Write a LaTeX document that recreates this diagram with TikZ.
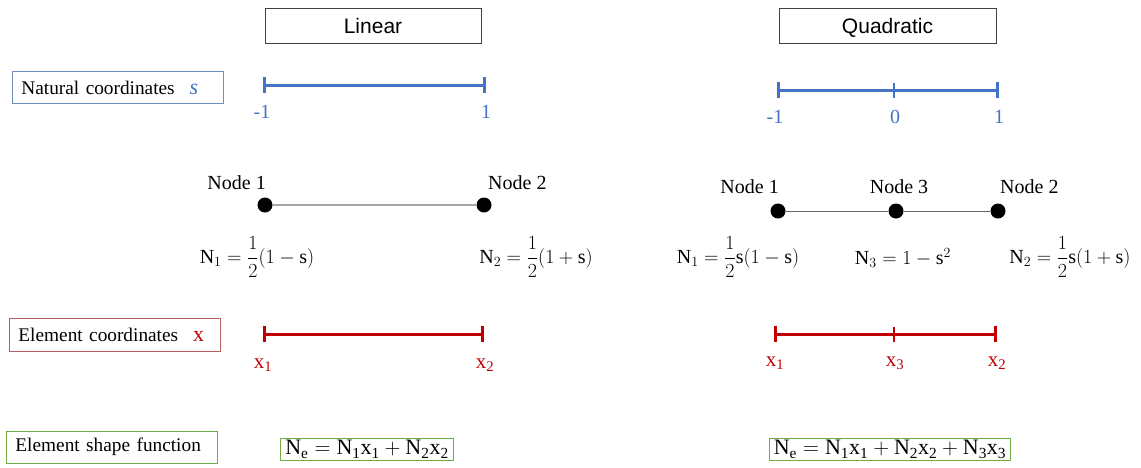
\documentclass[tikz,border=0pt]{standalone}
\usepackage{fix-cm}
\usepackage{amsmath}
\usepackage{fontspec}
\setmainfont{Liberation Serif}
\newfontfamily\titlefont{Liberation Sans}
\usepackage{xcolor}
\definecolor{natblue}{RGB}{68,114,196}
\definecolor{natframe}{RGB}{110,140,190}
\definecolor{elred}{RGB}{192,0,0}
\definecolor{elframe}{RGB}{185,95,95}
\definecolor{fungreen}{RGB}{112,173,71}
\usetikzlibrary{arrows.meta,positioning}

\begin{document}
\begin{tikzpicture}[x=1pt, y=-1pt,
  titlebox/.style={draw=black!75, line width=0.9pt, minimum width=216pt, minimum height=35pt, inner sep=0pt, text height=15pt, text depth=0pt, font=\titlefont\fontsize{21}{24}\selectfont},
  labelbox/.style={draw=#1, line width=0.9pt, anchor=west, text width=193pt, align=left, inner xsep=9pt, minimum height=32pt, font=\fontsize{19.3}{22}\selectfont},
  axisline/.style={{Bar[width=16pt]}-{Bar[width=16pt]}, line width=3pt, color=#1},
  midtick/.style={line width=2.8pt, color=#1},
  axislabel/.style={text=#1, inner sep=0pt, font=\fontsize{20}{22}\selectfont},
  dot/.style={circle, fill=black, inner sep=0pt, minimum size=15pt},
  dotlabel/.style={inner sep=0pt, font=\fontsize{20}{22}\selectfont},
  link/.style={draw=black!35, line width=1.5pt},
  shapefn/.style={inner sep=0pt, font=\fontsize{20}{24}\selectfont},
  sumbox/.style={draw=fungreen, line width=1.2pt, inner xsep=4.5pt, inner ysep=2pt, font=\fontsize{22}{24}\selectfont}
]
\useasboundingbox (0,0) rectangle (1141,467);

% titles
\node[titlebox] (lin) at (373,25.5) {Linear};
\node[titlebox, minimum width=217pt] (quad) at (887.5,25.5) {Quadratic};

% row labels
\node[labelbox=natframe] (natural) at (12,87.5) {Natural coordinates\hspace{15pt}{\color{natblue}\itshape\fontsize{22}{22}\selectfont s}};
\node[labelbox=elframe, minimum height=33pt] (element) at (9,334.5) {Element coordinates\hspace{15pt}{\color{elred}\fontsize{22}{22}\selectfont x}};
\node[labelbox=fungreen] (shapefun) at (6,447) {Element shape function};

% natural coordinates
\coordinate (sa) at (263,85);
\coordinate (sb) at (486,85);
\draw[axisline=natblue] (sa) -- (sb);
\node[axislabel=natblue] (sam) at (262,112) {-1};
\node[axislabel=natblue] (sbm) at (486,112) {1};

\coordinate (qa) at (777,90);
\coordinate (qc) at (894,90);
\coordinate (qb) at (999,90);
\draw[axisline=natblue] (qa) -- (qb);
\draw[midtick=natblue] ([yshift=7.5pt]qc) -- ([yshift=-7.5pt]qc);
\node[axislabel=natblue] (qam) at (775,117) {-1};
\node[axislabel=natblue] (qcm) at (895,117) {0};
\node[axislabel=natblue] (qbm) at (999,117) {1};

% linear element
\node[dot] (l1) at (265,205) {};
\node[dot] (l2) at (484,205) {};
\draw[link] (l1) -- (l2);
\node[dotlabel, anchor=base east] (l1name) at ([xshift=1pt, yshift=16pt]l1.center) {Node 1};
\node[dotlabel, anchor=base west] (l2name) at ([xshift=4pt, yshift=16pt]l2.center) {Node 2};
\node[shapefn] (ln1) at (257,257) {$\mathrm{N}_1=\dfrac{1}{2}(1-\mathrm{s})$};
\node[shapefn] (ln2) at (536,257) {$\mathrm{N}_2=\dfrac{1}{2}(1+\mathrm{s})$};

% quadratic element
\node[dot] (q1) at (778,211) {};
\node[dot] (q3) at (896,211) {};
\node[dot] (q2) at (998,211) {};
\draw[link, draw=black!60, line width=1pt] (q1) -- (q3);
\draw[link, draw=black!60, line width=1pt] (q3) -- (q2);
\node[dotlabel, anchor=base east] (q1name) at ([xshift=1pt, yshift=18pt]q1.center) {Node 1};
\node[dotlabel, anchor=base] (q3name) at ([xshift=3pt, yshift=18pt]q3.center) {Node 3};
\node[dotlabel, anchor=base west] (q2name) at ([xshift=2pt, yshift=18pt]q2.center) {Node 2};
\node[shapefn] (qn1) at (738,257) {$\mathrm{N}_1=\dfrac{1}{2}\mathrm{s}(1-\mathrm{s})$};
\node[shapefn] (qn3) at (903,258) {$\mathrm{N}_3=1-\mathrm{s}^2$};
\node[shapefn] (qn2) at (1070,257) {$\mathrm{N}_2=\dfrac{1}{2}\mathrm{s}(1+\mathrm{s})$};

% element coordinates
\coordinate (xa) at (263,334);
\coordinate (xb) at (484,334);
\draw[axisline=elred] (xa) -- (xb);
\node[axislabel=elred, font=\fontsize{21}{22}\selectfont] (xam) at (263,365) {x\textsubscript{1}};
\node[axislabel=elred, font=\fontsize{21}{22}\selectfont] (xbm) at (485,365) {x\textsubscript{2}};

\coordinate (ya) at (774,334);
\coordinate (yc) at (894,334);
\coordinate (yb) at (997,334);
\draw[axisline=elred] (ya) -- (yb);
\draw[midtick=elred] ([yshift=7.5pt]yc) -- ([yshift=-7.5pt]yc);
\node[axislabel=elred, font=\fontsize{21}{22}\selectfont] (yam) at (775,363) {x\textsubscript{1}};
\node[axislabel=elred, font=\fontsize{21}{22}\selectfont] (ycm) at (895,363) {x\textsubscript{3}};
\node[axislabel=elred, font=\fontsize{21}{22}\selectfont] (ybm) at (997,363) {x\textsubscript{2}};

% element shape functions
\node[sumbox] (linsum) at (367,449.5) {$\mathrm{N_e}=\mathrm{N_1x_1}+\mathrm{N_2x_2}$};
\node[sumbox] (quadsum) at (890,449.5) {$\mathrm{N_e}=\mathrm{N_1x_1}+\mathrm{N_2x_2}+\mathrm{N_3x_3}$};
\end{tikzpicture}
\end{document}
